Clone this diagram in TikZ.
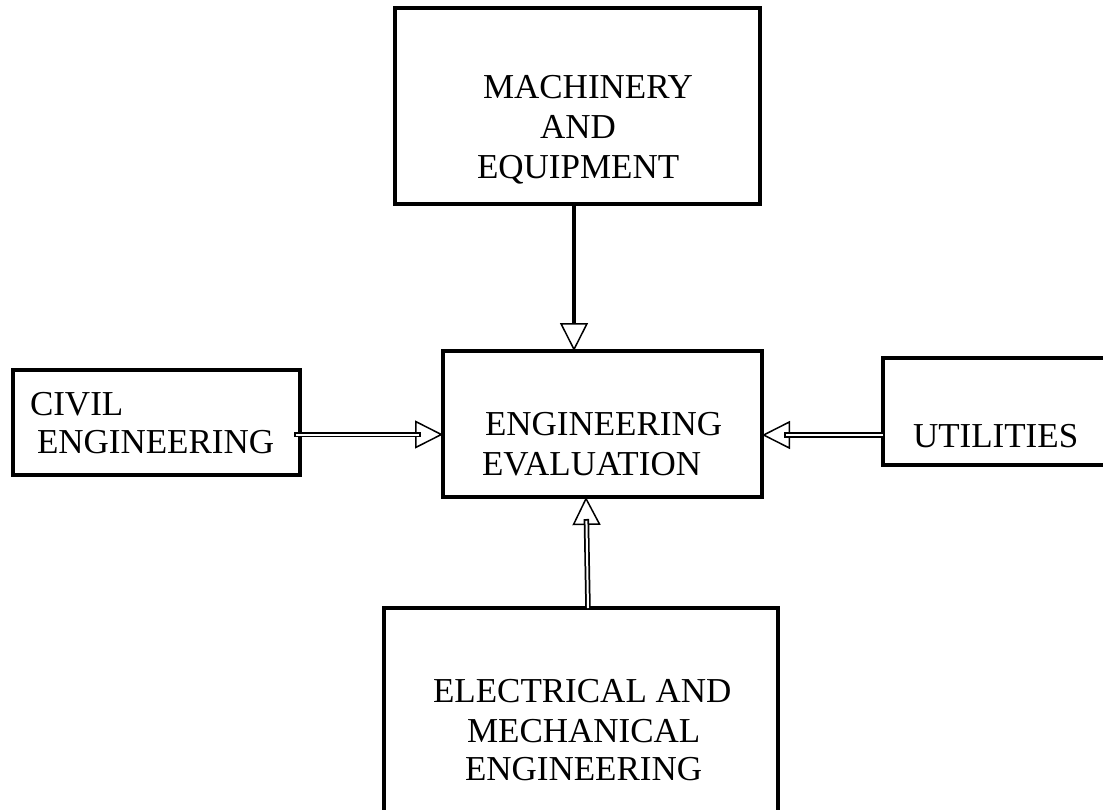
\documentclass[tikz,border=0pt]{standalone}
\usepackage{fontspec}
\setmainfont{Liberation Serif}
\usetikzlibrary{arrows.meta,calc}
\begin{document}
\begin{tikzpicture}[x=1pt,y=-1pt,
  box/.style={draw, line width=4pt, inner sep=0pt, outer sep=0pt},
  lbl/.style={inner sep=0pt, outer sep=0pt, anchor=base west, font=\fontsize{35}{40}\selectfont},
  solidarrow/.style={line width=4.5pt, -{Triangle[open,length=28pt,width=28pt,line width=1.5pt]}},
  tipline/.style={line width=1.5pt, -{Triangle[open,length=28pt,width=28pt,line width=1.5pt]}},
  shaftout/.style={line width=5.5pt, shorten >=22pt},
  shaftin/.style={white, line width=2pt, shorten >=23.75pt, shorten <=1.75pt}]
\path[use as bounding box, clip] (0,0) rectangle (1103,809);
\fill[white] (0,0) rectangle (1103,809);

% boxes
\node[box, minimum width=365pt, minimum height=196pt] (mach) at (577.5,106) {};
\node[box, minimum width=319pt, minimum height=146pt] (eval) at (602.5,424) {};
\node[box, minimum width=287pt, minimum height=105pt] (civil) at (156.5,422.5) {};
\node[box, minimum width=250pt, minimum height=107pt] (util) at (1008,411.5) {};
\node[box, minimum width=394pt, minimum height=240pt] (elec) at (581,728) {};

% texts
\node[lbl] (m1) at (483,98) {MACHINERY};
\node[lbl] (m2) at (540,138) {AND};
\node[lbl] (m3) at (477,178) {EQUIPMENT};
\node[lbl] (e1) at (485,435) {ENGINEERING};
\node[lbl] (e2) at (482,475) {EVALUATION};
\node[lbl] (c1) at (30,415) {CIVIL};
\node[lbl] (c2) at (37,453) {ENGINEERING};
\node[lbl] (u1) at (913,447) {UTILITIES};
\node[lbl] (l1) at (433,702) {ELECTRICAL AND};
\node[lbl] (l2) at (467,742) {MECHANICAL};
\node[lbl] (l3) at (465,780) {ENGINEERING};

% helper coordinates
\coordinate (mx) at (574,0);
\coordinate (cy) at (0,434.5);
\coordinate (uy) at (0,435);
\coordinate (ex1) at (588,0);
\coordinate (ex2) at (586,0);

% machinery -> evaluation
\draw[solidarrow] (mach.south -| mx) -- (eval.north -| mx);

% civil -> evaluation
\coordinate (cs) at ($(civil.east |- cy)+(-6,0)$);
\draw[tipline] (cs) -- (eval.west |- cy);
\draw[shaftout] (cs) -- (eval.west |- cy);
\draw[shaftin] (cs) -- (eval.west |- cy);

% utilities -> evaluation
\draw[tipline] (util.west |- uy) -- (eval.east |- uy);
\draw[shaftout] (util.west |- uy) -- (eval.east |- uy);
\draw[shaftin, shorten <=0pt] (util.west |- uy) -- (eval.east |- uy);

% electrical -> evaluation
\draw[tipline] (elec.north -| ex1) -- (eval.south -| ex2);
\draw[shaftout] (elec.north -| ex1) -- (eval.south -| ex2);
\draw[shaftin, shorten <=0pt] (elec.north -| ex1) -- (eval.south -| ex2);
\end{tikzpicture}
\end{document}
